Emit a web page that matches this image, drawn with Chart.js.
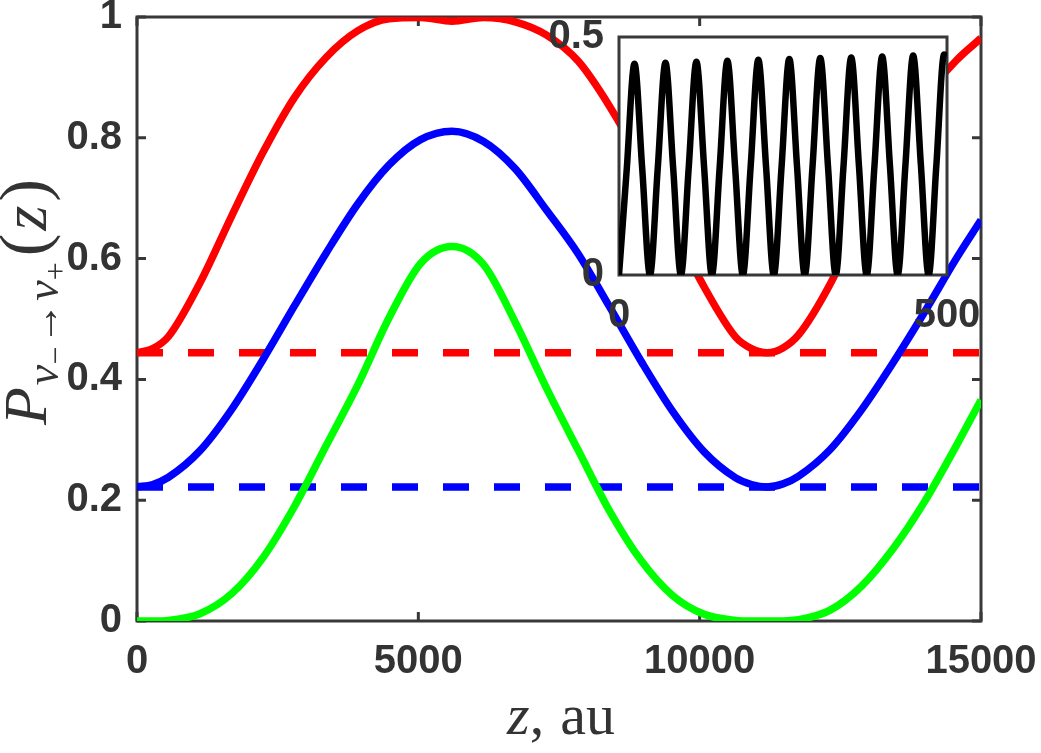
<!DOCTYPE html>
<html>
<head>
<meta charset="utf-8">
<script src="https://cdn.jsdelivr.net/npm/chart.js@4.4.1/dist/chart.umd.min.js"></script>
<style>
  html, body { margin: 0; padding: 0; background: #fff; }
  #wrap { position: relative; width: 1041px; height: 753px; }
  #graph { position: absolute; left: 0; top: 0; }
  #inset { position: absolute; left: 520px; top: 0; }
</style>
</head>
<body>
<div id="wrap">
  <canvas id="graph" width="1041" height="753"></canvas>
  <canvas id="inset" width="480" height="360"></canvas>
</div>
<script>
// main plot, z in au
var zValues = [0, 280, 560, 1120, 1680, 2240, 2800, 3360, 3920, 4480, 5040, 5600, 6160, 6720, 7280,
	7840, 8400, 8960, 9520, 10080, 10640, 10920, 11200, 11480, 11760, 12320, 12880, 13440, 14000, 14560, 15000];
var redCurve = [0.444, 0.451, 0.471, 0.560, 0.670, 0.776, 0.867, 0.933, 0.977, 0.997, 0.999, 0.993, 0.999, 0.992, 0.970,
	0.927, 0.852, 0.760, 0.655, 0.553, 0.470, 0.451, 0.444, 0.452, 0.474, 0.558, 0.668, 0.778, 0.866, 0.928, 0.965];
var blueCurve = [0.222, 0.226, 0.238, 0.282, 0.350, 0.433, 0.522, 0.609, 0.690, 0.755, 0.797, 0.811, 0.794, 0.749, 0.680,
	0.608, 0.520, 0.430, 0.347, 0.280, 0.237, 0.226, 0.222, 0.227, 0.240, 0.284, 0.350, 0.428, 0.512, 0.600, 0.664];
var greenCurve = [0, 0, 0.001, 0.012, 0.045, 0.105, 0.190, 0.290, 0.390, 0.502, 0.592, 0.620, 0.590, 0.495, 0.385,
	0.283, 0.182, 0.100, 0.042, 0.011, 0.001, 0, 0, 0, 0.002, 0.018, 0.058, 0.120, 0.198, 0.290, 0.366];
var redLevel = 0.444;
var blueLevel = 0.222;
var xTicks = [0, 5000, 10000, 15000];
var xTickLabels = ['0', '5000', '10000', '15000'];
var yTicks = [0, 0.2, 0.4, 0.6, 0.8, 1];
var yTickLabels = ['0', '0.2', '0.4', '0.6', '0.8', '1'];

// inset, first 500 au
var insetZ = [0, 11.8, 23.6, 35.4, 47.2, 59, 70.8, 82.6, 94.4, 106.2, 118, 129.8, 141.6, 153.4, 165.2,
	177, 188.8, 200.6, 212.4, 224.2, 236, 247.8, 259.6, 271.4, 283.2, 295, 306.8, 318.6, 330.4,
	342.2, 354, 365.8, 377.6, 389.4, 401.2, 413, 424.8, 436.6, 448.4, 460.2, 472, 483.8, 495.6, 500];
var insetP = [0, 0.222, 0.444, 0.223, 0, 0.223, 0.446, 0.224, 0, 0.224, 0.448, 0.225, 0, 0.225, 0.450,
	0.226, 0, 0.226, 0.452, 0.227, 0, 0.227, 0.454, 0.228, 0, 0.228, 0.456, 0.228, 0,
	0.228, 0.457, 0.229, 0, 0.229, 0.459, 0.230, 0, 0.230, 0.461, 0.231, 0, 0.231, 0.463, 0.461];
var insetXTicks = [0, 500];
var insetXTickLabels = ['0', '500'];
var insetYTicks = [0, 0.5];
var insetYTickLabels = ['0', '0.5'];

const axisColor = '#383838';
const tickFont = { family: 'Liberation Sans', size: 40, weight: 'bold' };
const serif = '"Liberation Serif", "DejaVu Serif", serif';

function pts(xs, ys) {
	return xs.map((x, i) => ({ x: x, y: ys[i] }));
}

function drawParts(ctx, parts, x, y) {
	parts.forEach(p => {
		ctx.font = p.f;
		ctx.fillText(p.t, x, y + (p.dy || 0));
		x += ctx.measureText(p.t).width + (p.sp || 0);
	});
}

function partsWidth(ctx, parts) {
	let w = 0;
	parts.forEach(p => {
		ctx.font = p.f;
		w += ctx.measureText(p.t).width + (p.sp || 0);
	});
	return w;
}

const frame = {
	id: 'frame',
	beforeDatasetsDraw(chart) {
		const { ctx, chartArea: a, scales: { x, y } } = chart;
		ctx.save();
		ctx.strokeStyle = axisColor;
		ctx.lineWidth = 3;
		ctx.strokeRect(a.left, a.top, a.right - a.left, a.bottom - a.top);
		ctx.beginPath();
		xTicks.forEach(v => {
			const px = x.getPixelForValue(v);
			ctx.moveTo(px, a.bottom); ctx.lineTo(px, a.bottom - 9);
			ctx.moveTo(px, a.top); ctx.lineTo(px, a.top + 9);
		});
		yTicks.forEach(v => {
			const py = y.getPixelForValue(v);
			ctx.moveTo(a.left, py); ctx.lineTo(a.left + 9, py);
			ctx.moveTo(a.right, py); ctx.lineTo(a.right - 9, py);
		});
		ctx.stroke();
		ctx.restore();
	},
	afterDraw(chart) {
		const ctx = chart.ctx;
		ctx.save();
		ctx.fillStyle = '#333';
		ctx.textBaseline = 'alphabetic';

		// x title: z, au
		const xParts = [
			{ t: 'z', f: 'italic 58px ' + serif },
			{ t: ',', f: '58px ' + serif, sp: 16 },
			{ t: 'au', f: '58px ' + serif }
		];
		drawParts(ctx, xParts, 561 - partsWidth(ctx, xParts) / 2, 734);

		// y title: P_{nu- -> nu+}(z)
		const yParts = [
			{ t: 'P', f: 'italic 62px ' + serif, sp: 2 },
			{ t: 'ν', f: 'italic 46px ' + serif, dy: 12 },
			{ t: '−', f: '32px ' + serif, dy: 20, sp: 2 },
			{ t: '→', f: '42px ' + serif, dy: 12, sp: 2 },
			{ t: 'ν', f: 'italic 46px ' + serif, dy: 12 },
			{ t: '+', f: '32px ' + serif, dy: 20, sp: 6 },
			{ t: '(', f: '68px ' + serif, sp: 3 },
			{ t: 'z', f: 'italic 64px ' + serif, sp: 4 },
			{ t: ')', f: '68px ' + serif }
		];
		ctx.translate(46, 302);
		ctx.rotate(-Math.PI / 2);
		drawParts(ctx, yParts, -partsWidth(ctx, yParts) / 2, 0);
		ctx.restore();
	}
};

new Chart(document.getElementById('graph').getContext('2d'), {
	type: 'line',
	data: {
		datasets: [{
			data: pts(zValues, redCurve),
			borderColor: '#ff0000',
			borderWidth: 7.5
		},
		{
			data: pts(zValues, blueCurve),
			borderColor: '#0000ff',
			borderWidth: 7.5
		},
		{
			data: pts(zValues, greenCurve),
			borderColor: '#00ff00',
			borderWidth: 7.5
		},
		{
			data: [{ x: 0, y: redLevel }, { x: 15000, y: redLevel }],
			borderColor: '#ff0000',
			borderWidth: 7.5,
			borderDash: [26, 25]
		},
		{
			data: [{ x: 0, y: blueLevel }, { x: 15000, y: blueLevel }],
			borderColor: '#0000ff',
			borderWidth: 7.5,
			borderDash: [26, 25]
		}]
	},
	options: {
		animation: false,
		responsive: false,
		layout: { padding: { left: 0, top: 17, right: 60, bottom: 0 } },
		elements: {
			point: { radius: 0 },
			line: { cubicInterpolationMode: 'monotone', fill: false, borderCapStyle: 'butt' }
		},
		scales: {
			x: {
				type: 'linear',
				min: 0,
				max: 15000,
				afterBuildTicks: s => { s.ticks = xTicks.map(v => ({ value: v })); },
				afterFit: s => { s.height = 132; s.paddingLeft = 0; s.paddingRight = 0; },
				grid: { display: false, drawTicks: false },
				border: { display: false },
				ticks: {
					color: '#333',
					font: tickFont,
					padding: 17,
					maxRotation: 0,
					autoSkip: false,
					callback: (v, i) => xTickLabels[i]
				}
			},
			y: {
				min: 0,
				max: 1,
				afterBuildTicks: s => { s.ticks = yTicks.map(v => ({ value: v })); },
				afterFit: s => { s.width = 137; s.paddingTop = 0; s.paddingBottom = 0; },
				grid: { display: false, drawTicks: false },
				border: { display: false },
				ticks: {
					color: '#333',
					font: tickFont,
					padding: 15,
					callback: (v, i) => yTickLabels[i]
				}
			}
		},
		plugins: {
			legend: { display: false },
			tooltip: { enabled: false }
		}
	},
	plugins: [frame]
});

const insetFrame = {
	id: 'insetFrame',
	beforeDatasetsDraw(chart) {
		const { ctx, chartArea: a } = chart;
		ctx.save();
		ctx.fillStyle = '#ffffff';
		ctx.fillRect(a.left, a.top, a.right - a.left, a.bottom - a.top);
		ctx.strokeStyle = axisColor;
		ctx.lineWidth = 3;
		ctx.strokeRect(a.left, a.top, a.right - a.left, a.bottom - a.top);
		ctx.restore();
	}
};

new Chart(document.getElementById('inset').getContext('2d'), {
	type: 'line',
	data: {
		datasets: [{
			data: pts(insetZ, insetP),
			borderColor: '#000000',
			borderWidth: 6.5
		}]
	},
	options: {
		animation: false,
		responsive: false,
		layout: { padding: { left: 0, top: 37, right: 53, bottom: 0 } },
		elements: {
			point: { radius: 0 },
			line: { cubicInterpolationMode: 'monotone', fill: false }
		},
		scales: {
			x: {
				type: 'linear',
				min: 0,
				max: 500,
				afterBuildTicks: s => { s.ticks = insetXTicks.map(v => ({ value: v })); },
				afterFit: s => { s.height = 85; s.paddingLeft = 0; s.paddingRight = 0; },
				grid: { display: false, drawTicks: false },
				border: { display: false },
				ticks: {
					color: '#333',
					font: tickFont,
					padding: 17,
					maxRotation: 0,
					autoSkip: false,
					callback: (v, i) => insetXTickLabels[i]
				}
			},
			y: {
				min: 0,
				max: 0.5,
				afterBuildTicks: s => { s.ticks = insetYTicks.map(v => ({ value: v })); },
				afterFit: s => { s.width = 99; s.paddingTop = 0; s.paddingBottom = 0; },
				grid: { display: false, drawTicks: false },
				border: { display: false },
				ticks: {
					color: '#333',
					font: tickFont,
					padding: 15,
					callback: (v, i) => insetYTickLabels[i]
				}
			}
		},
		plugins: {
			legend: { display: false },
			tooltip: { enabled: false }
		}
	},
	plugins: [insetFrame]
});
</script>
</body>
</html>
